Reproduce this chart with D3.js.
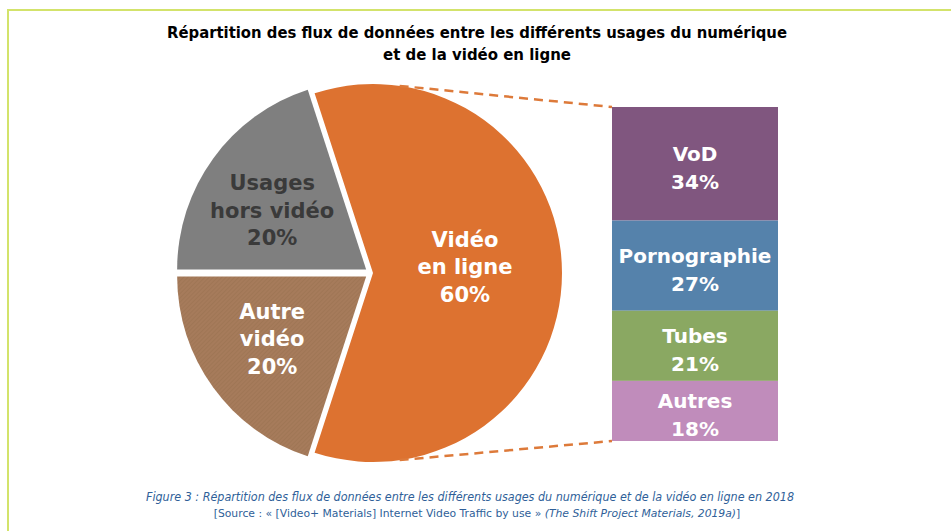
<!DOCTYPE html>
<html>
<head>
<meta charset="utf-8">
<script src="https://cdn.jsdelivr.net/npm/d3@7"></script>
<style>
  html, body { margin: 0; padding: 0; background: #fff; }
  svg { display: block; }
  .lbl { font-family: "DejaVu Sans", Verdana, sans-serif; font-weight: bold; }
</style>
</head>
<body>
<div id="chart"></div>
<script>
// data
var pieCategories = ["Vidéo en ligne", "Autre vidéo", "Usages hors vidéo"];
var pieLines = [["Vidéo", "en ligne"], ["Autre", "vidéo"], ["Usages", "hors vidéo"]];
var pieValues = [60, 20, 20];
var pieColors = ["#dd7230", "url(#hatch)", "#7f7f7f"];
var pieTextColors = ["#ffffff", "#ffffff", "#3a3a3a"];

var barCategories = ["VoD", "Pornographie", "Tubes", "Autres"];
var barValues = [34, 27, 21, 18];
var barColors = ["#80567f", "#5582ab", "#8aa862", "#c08cbb"];

var titleLines = [
  "Répartition des flux de données entre les différents usages du numérique",
  "et de la vidéo en ligne"
];
var titleWidths = [620, 188];

var width = 951;
var height = 531;

var svg = d3
  .select("#chart")
  .append("svg")
  .attr("width", width)
  .attr("height", height);

// hatch for "Autre vidéo"
var pat = svg.append("defs").append("pattern")
  .attr("id", "hatch")
  .attr("patternUnits", "userSpaceOnUse")
  .attr("width", 3)
  .attr("height", 3)
  .attr("patternTransform", "rotate(45)");
pat.append("rect").attr("width", 3).attr("height", 3).attr("fill", "#a67b5b");
pat.append("line")
  .attr("x1", 0).attr("y1", 0).attr("x2", 0).attr("y2", 3)
  .attr("stroke", "#98704f").attr("stroke-width", 1);

// frame
svg.append("line")
  .attr("x1", 8).attr("y1", 10).attr("x2", width).attr("y2", 10)
  .attr("stroke", "#d3e36b").attr("stroke-width", 2);
svg.append("line")
  .attr("x1", 8).attr("y1", 9).attr("x2", 8).attr("y2", height)
  .attr("stroke", "#d3e36b").attr("stroke-width", 2);

// title
svg.append("g")
  .selectAll("text")
  .data(titleLines)
  .enter()
  .append("text")
  .attr("class", "lbl")
  .attr("x", 477)
  .attr("y", function (d, i) { return 38 + i * 22; })
  .attr("text-anchor", "middle")
  .attr("font-size", 15.5)
  .attr("fill", "#000")
  .attr("textLength", function (d, i) { return titleWidths[i]; })
  .attr("lengthAdjust", "spacingAndGlyphs")
  .text(function (d) { return d; });

// pie
var cx = 371;
var cy = 273;
var radius = 189;

var pie = d3
  .pie()
  .sort(null)
  .startAngle(-0.1 * Math.PI)
  .endAngle(1.9 * Math.PI)
  .value(function (d) { return d; });

var arcs = pie(pieValues);

var arc = d3.arc().innerRadius(0).outerRadius(radius);
var labelArc = d3.arc().innerRadius(0).outerRadius(2 * 110);
var bigLabelArc = d3.arc().innerRadius(0).outerRadius(2 * 92);

function explode(d, i) {
  var dist = i === 0 ? 2 : 6;
  var a = (d.startAngle + d.endAngle) / 2;
  return [Math.sin(a) * dist, -Math.cos(a) * dist];
}

var pieG = svg.append("g")
  .attr("transform", "translate(" + cx + "," + cy + ")");

var slice = pieG
  .selectAll(".slice")
  .data(arcs)
  .enter()
  .append("g")
  .attr("class", "slice")
  .attr("transform", function (d, i) {
    var o = explode(d, i);
    return "translate(" + o[0] + "," + o[1] + ")";
  });

slice.append("path")
  .attr("d", arc)
  .attr("fill", function (d, i) { return pieColors[i]; });

slice.each(function (d, i) {
  var c = (i === 0 ? bigLabelArc : labelArc).centroid(d);
  var lines = pieLines[i].concat([pieValues[i] + "%"]);
  var dyAdj = i === 0 ? -2 : (i === 1 ? 2 : 10);
  d3.select(this).append("text")
    .attr("class", "lbl")
    .attr("text-anchor", "middle")
    .attr("font-size", 21)
    .attr("fill", pieTextColors[i])
    .selectAll("tspan")
    .data(lines)
    .enter()
    .append("tspan")
    .attr("x", c[0] - (i === 0 ? 0 : 5))
    .attr("y", function (t, j) { return c[1] + dyAdj + (j - 1) * 27.5 + 3; })
    .text(function (t) { return t; });
});

// stacked bar
var barX = 612;
var barW = 166;
var y = d3.scaleLinear().domain([0, 100]).range([107, 441]);

var cum = d3.cumsum(barValues);
var segs = barValues.map(function (v, i) {
  return { key: barCategories[i], value: v, y0: cum[i] - v, y1: cum[i] };
});

// connecting dashed lines (from top and bottom of the orange slice)
var orange = arcs[0];
var oOff = explode(orange, 0);
var tipA = 0.045 * Math.PI;
var topPt = [cx + oOff[0] + Math.sin(tipA) * radius, cy + oOff[1] - Math.cos(tipA) * radius];
var botPt = [cx + oOff[0] + Math.sin(Math.PI - tipA) * radius, cy + oOff[1] - Math.cos(Math.PI - tipA) * radius];
var connectors = [
  [topPt, [barX, y(0)]],
  [botPt, [barX, y(100)]]
];
svg.append("g")
  .selectAll("path")
  .data(connectors)
  .enter()
  .append("path")
  .attr("d", d3.line())
  .attr("fill", "none")
  .attr("stroke", "#dd7a3a")
  .attr("stroke-width", 2.5)
  .attr("stroke-dasharray", "9,6");

var bar = svg.append("g");

bar.selectAll("rect")
  .data(segs)
  .enter()
  .append("rect")
  .attr("x", barX)
  .attr("width", barW)
  .attr("y", function (d) { return y(d.y0); })
  .attr("height", function (d) { return y(d.y1) - y(d.y0); })
  .attr("fill", function (d, i) { return barColors[i]; });

bar.selectAll("text")
  .data(segs)
  .enter()
  .append("text")
  .attr("class", "lbl")
  .attr("text-anchor", "middle")
  .attr("font-size", 20)
  .attr("fill", "#fff")
  .each(function (d) {
    var mid = (y(d.y0) + y(d.y1)) / 2;
    var t = d3.select(this);
    t.append("tspan").attr("x", barX + barW / 2).attr("y", mid - 3).text(d.key);
    t.append("tspan").attr("x", barX + barW / 2).attr("y", mid + 25).text(d.value + "%");
  });

// caption
var cap = svg.append("g")
  .attr("font-family", "'DejaVu Sans', Tahoma, sans-serif")
  .attr("font-size", 11.5)
  .attr("fill", "#2f5f99");

cap.append("text")
  .attr("x", 470)
  .attr("y", 501)
  .attr("text-anchor", "middle")
  .attr("font-style", "italic")
  .attr("textLength", 648)
  .attr("lengthAdjust", "spacingAndGlyphs")
  .text("Figure 3 : Répartition des flux de données entre les différents usages du numérique et de la vidéo en ligne en 2018");

var src = cap.append("text")
  .attr("x", 477)
  .attr("y", 517)
  .attr("text-anchor", "middle")
  .attr("font-size", 10.8);
src.append("tspan").text("[Source : « [Video+ Materials] Internet Video Traffic by use » ");
src.append("tspan").attr("font-style", "italic").text("(The Shift Project Materials, 2019a)");
src.append("tspan").text("]");
</script>
</body>
</html>
